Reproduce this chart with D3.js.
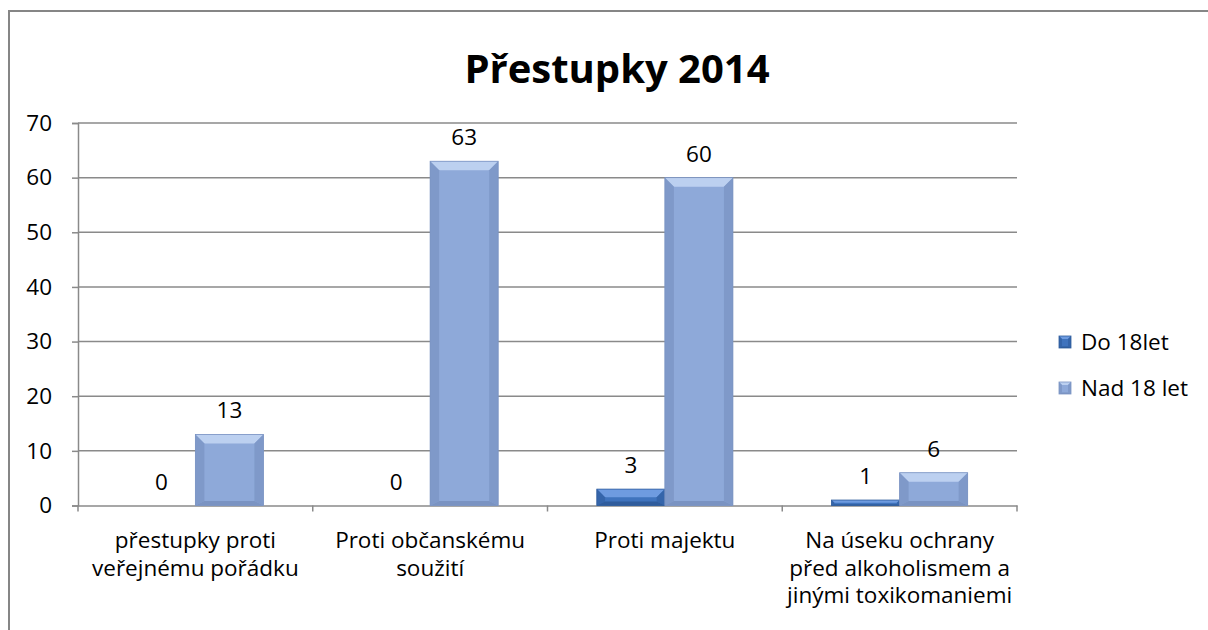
<!DOCTYPE html>
<html>
<head>
<meta charset="utf-8">
<script src="https://cdn.jsdelivr.net/npm/d3@7"></script>
<style>
  body { margin: 0; background: #fff; }
  svg text { font-family: "Open Sans", sans-serif; fill: #000; }
</style>
</head>
<body>
<div id="chart"></div>
<script>
const categories = [
  ["přestupky proti", "veřejnému pořádku"],
  ["Proti občanskému", "soužití"],
  ["Proti majektu"],
  ["Na úseku ochrany", "před alkoholismem a", "jinými toxikomaniemi"]
];
const seriesNames = ["Do 18let", "Nad 18 let"];
const do18 = [0, 0, 3, 1];
const nad18 = [13, 63, 60, 6];
const yTicks = [0, 10, 20, 30, 40, 50, 60, 70];

const width = 1208;
const height = 630;
const margin = { left: 78, right: 191, top: 123, bottom: 124.5 };
const fontSize = "22.5px";

const svg = d3
  .select("#chart")
  .append("svg")
  .attr("width", width)
  .attr("height", height);

// outer chart frame (runs off the right and bottom edge)
svg
  .append("path")
  .attr("d", "M9,640 L9,11 L1220,11")
  .style("fill", "none")
  .style("stroke", "#868686")
  .style("stroke-width", 2);

svg
  .append("text")
  .attr("x", 617)
  .attr("y", 83)
  .attr("text-anchor", "middle")
  .style("font-size", "40px")
  .style("font-weight", "bold")
  .text("Přestupky 2014");

const x = d3
  .scaleBand()
  .domain(d3.range(categories.length))
  .range([margin.left, width - margin.right]);

const y = d3
  .scaleLinear()
  .domain([0, 70])
  .range([height - margin.bottom, margin.top]);

// gridlines
svg
  .append("g")
  .selectAll("line")
  .data(yTicks.slice(1))
  .join("line")
  .attr("x1", margin.left)
  .attr("x2", width - margin.right)
  .attr("y1", (d) => y(d))
  .attr("y2", (d) => y(d))
  .style("stroke", "#8a8a8a")
  .style("stroke-width", 1.5);

const yAxis = svg
  .append("g")
  .attr("transform", `translate(${margin.left},0)`)
  .call(d3.axisLeft(y).tickValues(yTicks).tickSize(6).tickPadding(20));

const xAxis = svg
  .append("g")
  .attr("transform", `translate(0,${y(0)})`)
  .call(
    d3
      .axisBottom(x)
      .tickValues([])
      .tickSizeOuter(0)
  );

// ticks between categories
svg
  .append("g")
  .selectAll("line")
  .data(d3.range(categories.length + 1))
  .join("line")
  .attr("x1", (i) => margin.left + i * x.step())
  .attr("x2", (i) => margin.left + i * x.step())
  .attr("y1", y(0))
  .attr("y2", y(0) + 6)
  .style("stroke", "#8a8a8a")
  .style("stroke-width", 1.5);

[yAxis, xAxis].forEach((g) => {
  g.selectAll(".domain, .tick line")
    .style("stroke", "#8a8a8a")
    .style("stroke-width", 1.5);
  g.selectAll("text")
    .style("font-size", fontSize)
    .style("font-family", "'Open Sans', sans-serif")
    .attr("fill", "#000");
});

// category labels
categories.forEach((lines, i) => {
  const t = svg
    .append("text")
    .attr("x", x(i) + x.bandwidth() / 2)
    .attr("y", 548)
    .attr("text-anchor", "middle")
    .style("font-size", fontSize);
  lines.forEach((l, j) => {
    t.append("tspan")
      .attr("x", x(i) + x.bandwidth() / 2)
      .attr("dy", j === 0 ? 0 : 27.5)
      .text(l);
  });
});

const xs = d3
  .scaleBand()
  .domain([0, 1])
  .range([0, x.bandwidth()])
  .paddingOuter(0.725)
  .paddingInner(0);

const palettes = [
  { face: "#3f73bd", top: "#6e9be0", side: "#3565aa", bottom: "#2f5c9c" },
  { face: "#8ea9d9", top: "#bcd0f0", side: "#7f99c9", bottom: "#7a93c2" }
];

function bevelBar(g, bx, by, bw, bh, p, bevel) {
  if (bh <= 0) return;
  const b = Math.min(bevel, bh / 2);
  g.append("rect")
    .attr("x", bx)
    .attr("y", by)
    .attr("width", bw)
    .attr("height", bh)
    .style("fill", p.face);
  const pts = (arr) => arr.map((q) => q.join(",")).join(" ");
  // top bevel
  g.append("polygon")
    .attr("points", pts([[bx, by], [bx + bw, by], [bx + bw - b, by + b], [bx + b, by + b]]))
    .style("fill", p.top);
  // left bevel
  g.append("polygon")
    .attr("points", pts([[bx, by], [bx + b, by + b], [bx + b, by + bh - b / 2], [bx, by + bh]]))
    .style("fill", p.side);
  // right bevel
  g.append("polygon")
    .attr("points", pts([[bx + bw, by], [bx + bw - b, by + b], [bx + bw - b, by + bh - b / 2], [bx + bw, by + bh]]))
    .style("fill", p.side);
  // bottom bevel
  g.append("polygon")
    .attr("points", pts([[bx, by + bh], [bx + b, by + bh - b / 2], [bx + bw - b, by + bh - b / 2], [bx + bw, by + bh]]))
    .style("fill", p.bottom);
  g.append("rect")
    .attr("x", bx)
    .attr("y", by)
    .attr("width", bw)
    .attr("height", bh)
    .style("fill", "none")
    .style("stroke", p.bottom)
    .style("stroke-width", 0.8);
}

const bars = svg.append("g");
[do18, nad18].forEach((series, s) => {
  series.forEach((v, i) => {
    const bx = x(i) + xs(s);
    bevelBar(bars, bx, y(v), xs.bandwidth(), y(0) - y(v), palettes[s], 9);
    svg
      .append("text")
      .attr("x", bx + xs.bandwidth() / 2)
      .attr("y", y(v) - 16)
      .attr("text-anchor", "middle")
      .style("font-size", fontSize)
      .text(v);
  });
});

// legend
const legend = svg.append("g");
seriesNames.forEach((name, s) => {
  const ly = 342 + s * 46;
  bevelBar(legend, 1059, ly - 6, 12, 12, palettes[s], 3);
  legend
    .append("text")
    .attr("x", 1081)
    .attr("y", ly + 8)
    .style("font-size", fontSize)
    .text(name);
});
</script>
</body>
</html>
